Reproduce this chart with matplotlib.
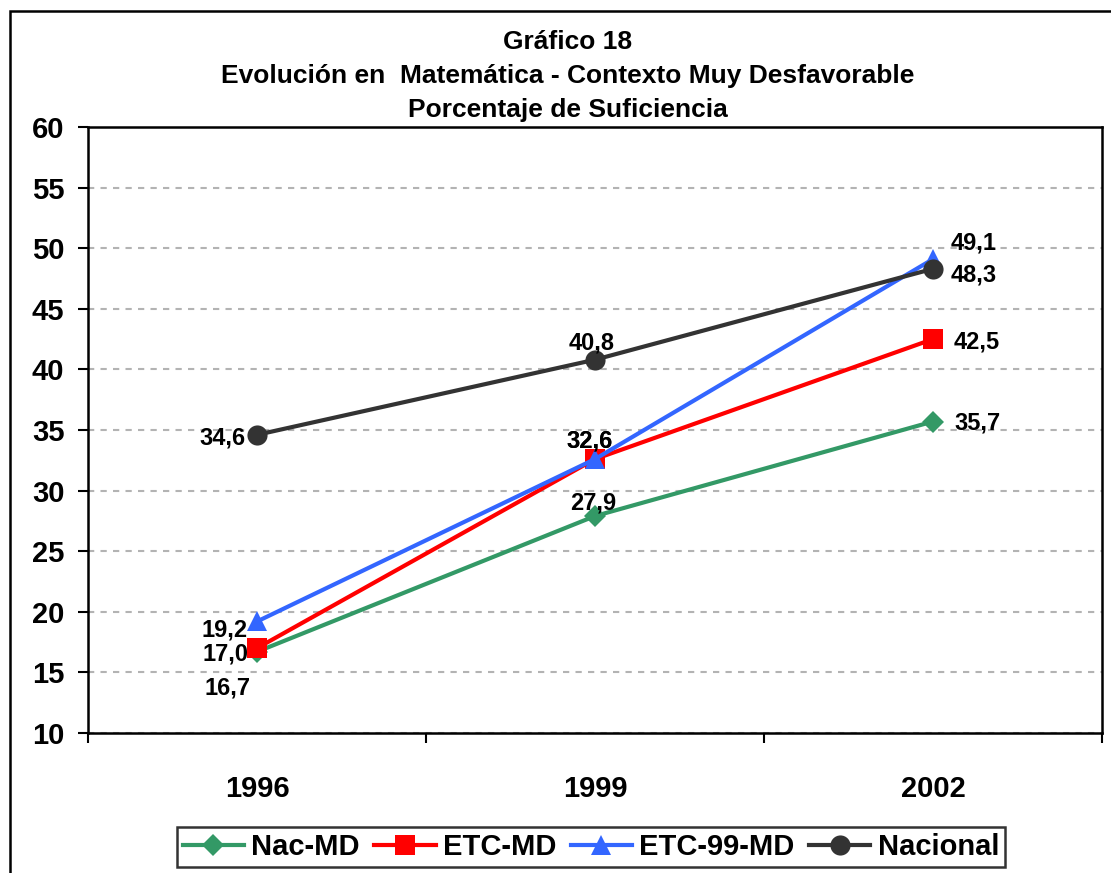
import matplotlib
matplotlib.use("Agg")
import matplotlib.pyplot as plt
from matplotlib.patches import Rectangle

plt.rcParams['font.family'] = ['Liberation Sans', 'DejaVu Sans']
plt.rcParams['font.weight'] = 'bold'

years = ["1996", "1999", "2002"]
series_names = ["Nac-MD", "ETC-MD", "ETC-99-MD", "Nacional"]
nac_md = [16.7, 27.9, 35.7]
etc_md = [17.0, 32.6, 42.5]
etc_99_md = [19.2, 32.6, 49.1]
nacional = [34.6, 40.8, 48.3]
title_lines = ["Gráfico 18",
               "Evolución en  Matemática - Contexto Muy Desfavorable",
               "Porcentaje de Suficiencia"]

colors = ["#339966", "#ff0000", "#3366ff", "#333333"]
markers = ["D", "s", "^", "o"]
msizes = [11, 14.5, 15, 14.5]
# label offsets in pixels (dx, dy) per series/point
offsets = [
    [(-29, -36), (-2, 13), (44, -1)],
    [(-31, -6), (-5, 18), (44, -3)],
    [(-32, -9), (-5, 18), (41, 16)],
    [(-35, -3), (-3, 17), (41, -6)],
]

fig = plt.figure(figsize=(11.11, 8.73), dpi=100)
W, H = 1111, 873
ax = fig.add_axes([88 / W, 1 - 733 / H, (1102 - 88) / W, (733 - 127) / H])

x = list(range(len(years)))
all_series = [nac_md, etc_md, etc_99_md, nacional]
handles = []
for vals, name, c, m, ms, offs in zip(all_series, series_names, colors, markers, msizes, offsets):
    h, = ax.plot(x, vals, color=c, marker=m, markersize=ms, linewidth=3,
                 markeredgewidth=0, label=name, clip_on=False)
    handles.append(h)
    for xi, v, (dx, dy) in zip(x, vals, offs):
        ax.annotate(f"{v:.1f}".replace(".", ","), (xi, v),
                    xytext=(dx * 0.72, dy * 0.72), textcoords="offset points",
                    ha="center", va="center", fontsize=17, fontweight="bold")

ax.set_xlim(-0.5, 2.5)
ax.set_ylim(10, 60)
ax.set_yticks(range(10, 61, 5))
ax.set_xticks([-0.5, 0.5, 1.5, 2.5])
ax.set_xticklabels([])
ax.set_xticks(x, minor=True)
ax.set_xticklabels(years, minor=True)
ax.tick_params(axis="x", which="major", direction="out", length=7, width=1.5)
ax.tick_params(axis="x", which="minor", length=0, pad=30, labelsize=21)
ax.tick_params(axis="y", direction="out", length=7, width=1.5, pad=10, labelsize=21)
ax.grid(axis="y", color="#b3b3b3", linestyle=(0, (3, 3)), linewidth=1.5)
ax.set_axisbelow(True)
for sp in ax.spines.values():
    sp.set_linewidth(1.8)
    sp.set_color("black")

for i, line in enumerate(title_lines):
    fig.text(568 / W, 1 - (42 + 34 * i) / H, line, ha="center", va="center",
             fontsize=19, fontweight="bold")

leg = fig.legend(handles=handles, loc="center", bbox_to_anchor=(591 / W, 1 - 847 / H),
                 ncol=4, fontsize=21, frameon=True, fancybox=False, handlelength=2.1,
                 handletextpad=0.25, columnspacing=0.5, borderpad=0.2)
leg.get_frame().set_edgecolor("black")
leg.get_frame().set_linewidth(1.8)

# outer chart border (left and top edges visible)
fig.add_artist(Rectangle((10 / W, -0.1), 1.2, 1 - 11 / H + 0.1, transform=fig.transFigure,
                         fill=False, edgecolor="black", linewidth=1.8))

fig.savefig("out.png", dpi=100)
